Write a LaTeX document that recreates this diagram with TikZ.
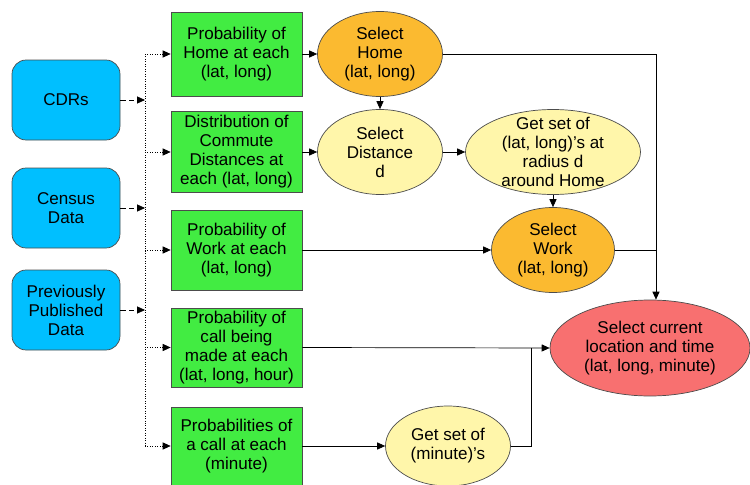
\documentclass[tikz,border=0pt]{standalone}
\usepackage{xcolor}
\usepackage{fontspec}
\setmainfont{Liberation Sans}
\usepackage{tikz}
\usetikzlibrary{positioning, arrows.meta, shapes.geometric}

\definecolor{srcblue}{RGB}{0,191,255}
\definecolor{probgreen}{RGB}{66,236,66}
\definecolor{selorange}{RGB}{251,186,48}
\definecolor{getyellow}{RGB}{255,246,170}
\definecolor{curred}{RGB}{248,112,112}

\begin{document}
\begin{tikzpicture}[
    >={Triangle[length=4.5pt, width=4pt]},
    every node/.style={font=\fontsize{9.7}{10.8}\selectfont, align=center},
    src/.style={draw=black!70, fill=srcblue, rounded corners=8pt, minimum width=2.16cm, minimum height=1.6cm},
    prob/.style={draw=black!70, fill=probgreen, minimum width=2.62cm, minimum height=1.6cm, inner sep=1pt},
    oval/.style={draw=black!70, ellipse, minimum width=2.5cm, minimum height=1.7cm, inner sep=0pt},
    srcline/.style={dash pattern=on 3pt off 2pt, ->},
    busline/.style={densely dotted}
]
\useasboundingbox (0, 0) rectangle (15, -9.7);

\node[src] (cdr) at (1.32, -2.0) {CDRs};
\node[src] (census) at (1.32, -4.16) {Census\\Data};
\node[src] (prev) at (1.32, -6.2) {Previously\\Published\\Data};

\node[prob, minimum height=1.68cm] (phome) at (4.73, -1.08) {Probability of\\Home at each\\(lat, long)};
\node[prob, minimum height=1.62cm] (pdist) at (4.73, -3.04) {Distribution of\\Commute\\Distances at\\each (lat, long)};
\node[prob] (pwork) at (4.73, -5.0) {Probability of\\Work at each\\(lat, long)};
\node[prob, minimum height=1.58cm] (pcall) at (4.73, -6.95) {Probability of\\call being\\made at each\\(lat, long, hour)};
\node[prob, minimum height=1.56cm] (pmin) at (4.73, -8.92) {Probabilities of\\a call at each\\(minute)};

\node[oval, fill=selorange] (shome) at (7.6, -1.08) {Select\\Home\\(lat, long)};
\node[oval, fill=getyellow] (sdist) at (7.6, -3.04) {Select\\Distance\\d};
\node[oval, fill=getyellow, minimum width=3.5cm, inner ysep=-4pt] (gsll) at (11.06, -3.04) {Get set of\\(lat, long)’s at\\radius d\\around Home};
\node[oval, fill=selorange, minimum width=2.46cm] (swork) at (11.06, -5.0) {Select\\Work\\(lat, long)};
\node[oval, fill=curred, minimum width=4.0cm, minimum height=1.92cm] (cur) at (13.0, -6.96) {Select current\\location and time\\(lat, long, minute)};
\node[oval, fill=getyellow, minimum height=1.6cm] (gsmin) at (8.96, -8.92) {Get set of\\(minute)’s};

\coordinate (bus) at (2.9, 0);
\coordinate (mjoin) at (10.62, 0);
\coordinate (rjoin) at (13.12, 0);

% data sources into the bus
\draw[busline] (phome.west -| bus) -- (pmin.west -| bus);
\draw[srcline] (cdr.east) -- (cdr.east -| bus);
\draw[srcline] (census.east) -- (census.east -| bus);
\draw[srcline] (prev.east) -- (prev.east -| bus);
\foreach \p in {phome, pdist, pwork, pcall, pmin}
    \draw[busline, ->] (\p.west -| bus) -- (\p.west);

% model steps
\draw[->] (phome) -- (shome);
\draw[->] (pdist) -- (sdist);
\draw[->] (shome) -- (sdist);
\draw[->] (sdist) -- (gsll);
\draw[->] (gsll) -- (swork);
\draw[->] (pwork) -- (swork);
\draw[->] (shome.east) -| (cur.north -| rjoin);
\draw (swork.east) -- (swork.east -| rjoin);
\draw[->] (pcall.east) -- (cur.west);
\draw[->] (pmin) -- (gsmin);
\draw (gsmin.east) -| (cur.west -| mjoin);
\end{tikzpicture}
\end{document}
